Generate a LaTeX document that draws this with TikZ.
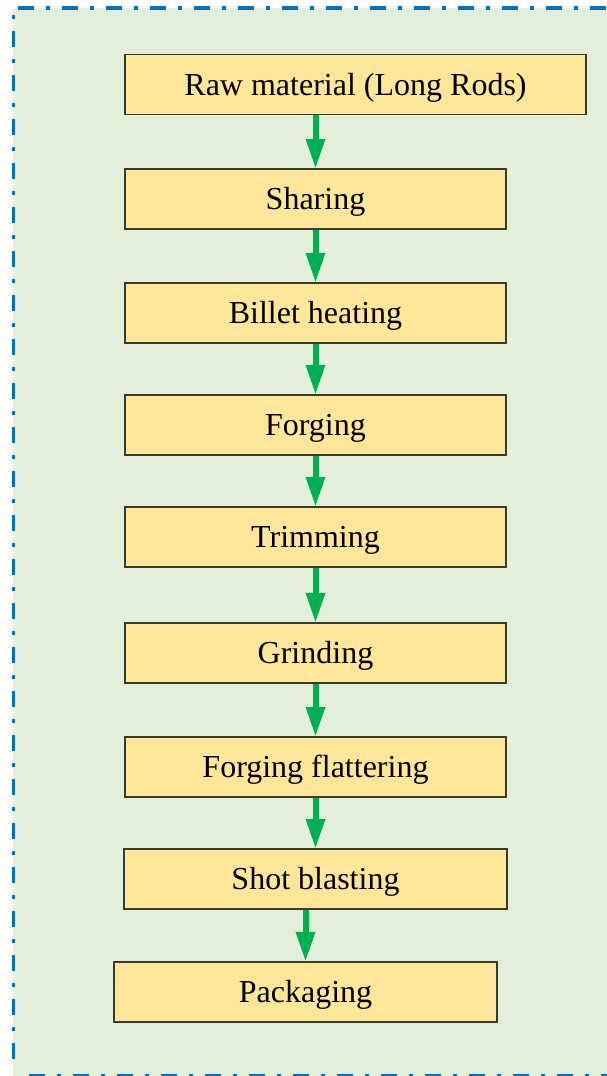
\documentclass[tikz,border=0pt]{standalone}
\usepackage{fontspec}
\setmainfont{Liberation Serif}
\usetikzlibrary{arrows.meta}
\definecolor{panelgreen}{HTML}{E2EFD9}
\definecolor{frameblue}{HTML}{0070C0}
\definecolor{stepfill}{HTML}{FFE699}
\definecolor{stepline}{HTML}{3A3A30}
\definecolor{flowgreen}{HTML}{00B050}
\begin{document}
\begin{tikzpicture}[x=1pt,y=-1pt,
  stepbox/.style={draw=stepline, line width=1.2pt, fill=stepfill,
    minimum height=60pt, inner sep=0pt, text=black,
    text height=21pt, text depth=0pt,
    font=\fontsize{32}{36}\selectfont},
  frame/.style={frameblue, line width=3.6pt,
    dash pattern=on 16pt off 12pt on 4pt off 12pt},
  flow/.style={draw=flowgreen, line width=6pt,
    -{Triangle[width=18pt,length=30pt]}, shorten >=-0.5pt}]
  \useasboundingbox (0,0) rectangle (607,1076);
  \begin{scope}
    \clip (0,0) rectangle (607,1076);
    % dash-dot panel frame
    \fill[panelgreen] (13,8) rectangle (630,1090);
    \draw[frame] (13.3,1059) -- (13.3,7.8) -- (640,7.8);
    \draw[frame] (29,1076) -- (640,1076);
  \end{scope}
  % process steps
  \node[stepbox, minimum width=461pt] (s1) at (355.5,84.5) {Raw material (Long Rods)};
  \node[stepbox, minimum width=381pt] (s2) at (315.5,199) {Sharing};
  \node[stepbox, minimum width=381pt] (s3) at (315.5,313) {Billet heating};
  \node[stepbox, minimum width=381pt] (s4) at (315.5,425) {Forging};
  \node[stepbox, minimum width=381pt] (s5) at (315.5,537) {Trimming};
  \node[stepbox, minimum width=381pt] (s6) at (315.5,653) {Grinding};
  \node[stepbox, minimum width=381pt] (s7) at (315.5,767) {Forging flattering};
  \node[stepbox, minimum width=383pt] (s8) at (315.5,879) {Shot blasting};
  \node[stepbox, minimum width=383pt] (s9) at (305.5,992) {Packaging};
  % connectors
  \foreach \a/\b in {s1/s2,s2/s3,s3/s4,s4/s5,s5/s6,s6/s7,s7/s8,s8/s9}
    \draw[flow] (\b.north |- \a.south) -- (\b.north);
\end{tikzpicture}
\end{document}
